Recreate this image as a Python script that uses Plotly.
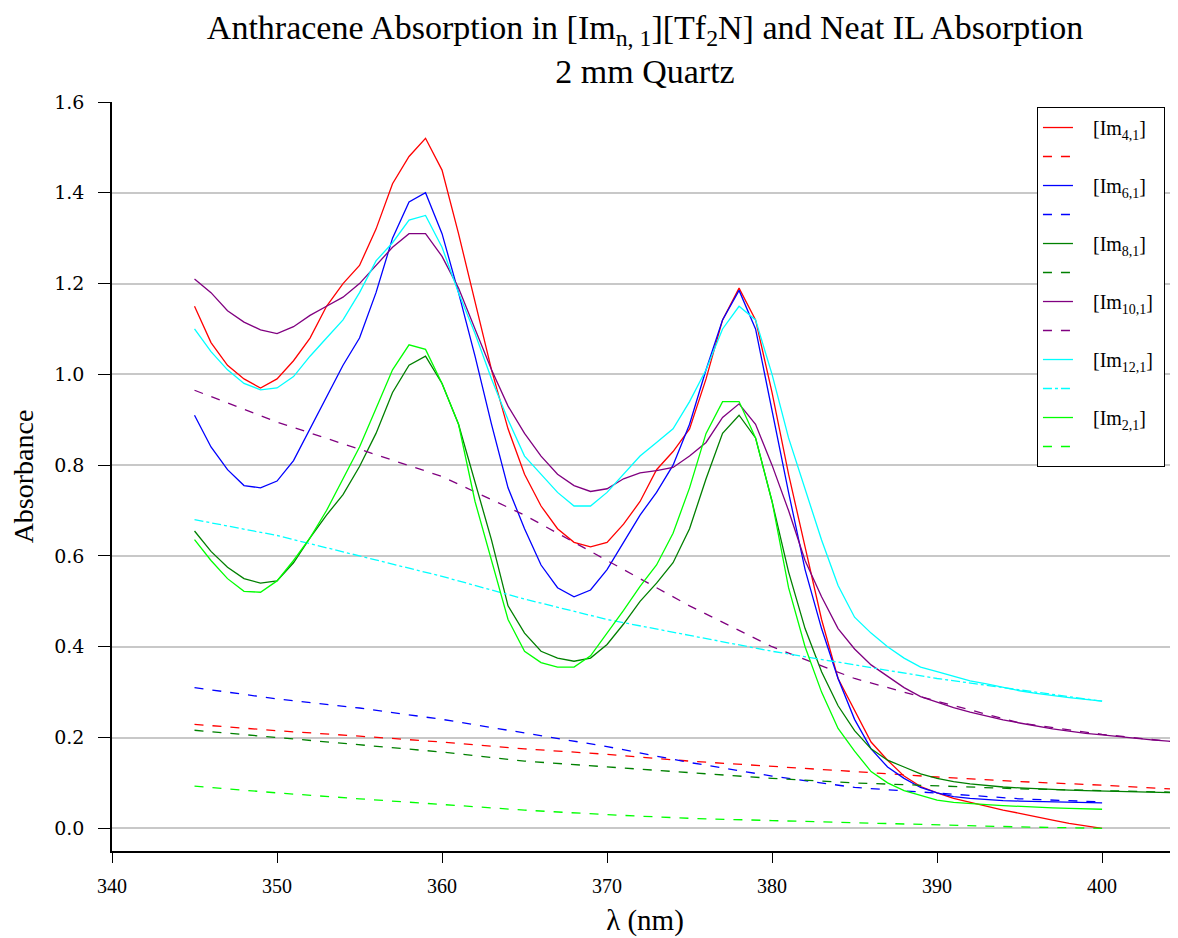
import plotly.graph_objects as go

# wavelength grids (nm)
wl = list(range(345, 401))        # 345..400
wl_ext = list(range(345, 406))    # 345..405
wl_dash = [345, 350, 355, 360, 365, 370, 375, 380, 385, 390, 395, 400]
wl_dash_ext = [345, 350, 355, 360, 365, 370, 375, 380, 385, 390, 395, 400, 405]

# Anthracene in IL (solid)
im4 = [1.15, 1.07, 1.02, 0.99, 0.97, 0.99, 1.03, 1.08, 1.15, 1.20,
       1.24, 1.32, 1.42, 1.48, 1.52, 1.45, 1.31, 1.16, 1.01, 0.88,
       0.78, 0.71, 0.66, 0.63, 0.62, 0.63, 0.67, 0.72, 0.79, 0.83,
       0.88, 0.99, 1.12, 1.19, 1.12, 0.96, 0.78, 0.62, 0.46, 0.33,
       0.26, 0.19, 0.15, 0.115, 0.092, 0.078, 0.066, 0.057, 0.048, 0.040,
       0.033, 0.025, 0.018, 0.011, 0.005, 0.0]
im6 = [0.91, 0.84, 0.79, 0.755, 0.75, 0.765, 0.81, 0.88, 0.95, 1.02,
       1.08, 1.18, 1.30, 1.38, 1.40, 1.31, 1.18, 1.04, 0.89, 0.75,
       0.66, 0.58, 0.53, 0.51, 0.525, 0.57, 0.63, 0.69, 0.74, 0.80,
       0.89, 1.01, 1.12, 1.185, 1.10, 0.92, 0.74, 0.57, 0.44, 0.33,
       0.24, 0.175, 0.135, 0.11, 0.09, 0.078, 0.07, 0.066, 0.063, 0.061,
       0.060, 0.059, 0.058, 0.057, 0.057, 0.056]
im8 = [0.655, 0.61, 0.575, 0.55, 0.54, 0.545, 0.585, 0.64, 0.69, 0.735,
       0.797, 0.87, 0.96, 1.02, 1.04, 0.98, 0.89, 0.76, 0.635, 0.49,
       0.43, 0.39, 0.375, 0.368, 0.375, 0.405, 0.45, 0.50, 0.54, 0.585,
       0.66, 0.77, 0.87, 0.91, 0.86, 0.72, 0.565, 0.44, 0.345, 0.27,
       0.215, 0.175, 0.15, 0.135, 0.12, 0.11, 0.103, 0.098, 0.094, 0.091,
       0.089, 0.087, 0.085, 0.084, 0.083, 0.082, 0.081, 0.080, 0.080, 0.079,
       0.078]
im10 = [1.21, 1.18, 1.14, 1.115, 1.098, 1.09, 1.105, 1.13, 1.15, 1.17,
        1.20, 1.24, 1.28, 1.31, 1.31, 1.26, 1.19, 1.10, 1.01, 0.93,
        0.87, 0.82, 0.78, 0.755, 0.742, 0.748, 0.77, 0.783, 0.788, 0.795,
        0.82, 0.85, 0.905, 0.935, 0.89, 0.80, 0.70, 0.59, 0.51, 0.44,
        0.395, 0.36, 0.335, 0.31, 0.29, 0.278, 0.266, 0.256, 0.247, 0.239,
        0.232, 0.225, 0.219, 0.214, 0.209, 0.206, 0.202, 0.199, 0.195, 0.192,
        0.188]
im12 = [1.10, 1.05, 1.01, 0.98, 0.966, 0.97, 0.995, 1.04, 1.08, 1.12,
        1.18, 1.25, 1.29, 1.34, 1.35, 1.28, 1.18, 1.09, 0.99, 0.90,
        0.82, 0.78, 0.74, 0.71, 0.71, 0.74, 0.78, 0.82, 0.85, 0.88,
        0.94, 1.01, 1.10, 1.15, 1.12, 1.00, 0.86, 0.745, 0.635, 0.535,
        0.465, 0.43, 0.40, 0.375, 0.355, 0.345, 0.335, 0.325, 0.318, 0.31,
        0.303, 0.297, 0.292, 0.288, 0.284, 0.28]
im2 = [0.636, 0.59, 0.55, 0.522, 0.52, 0.545, 0.59, 0.64, 0.70, 0.77,
       0.84, 0.925, 1.01, 1.065, 1.055, 0.98, 0.89, 0.72, 0.59, 0.46,
       0.39, 0.365, 0.355, 0.355, 0.38, 0.43, 0.48, 0.533, 0.58, 0.65,
       0.75, 0.87, 0.94, 0.94, 0.86, 0.72, 0.53, 0.40, 0.30, 0.22,
       0.17, 0.125, 0.10, 0.083, 0.072, 0.062, 0.057, 0.054, 0.052, 0.050,
       0.048, 0.046, 0.045, 0.044, 0.043, 0.042]

# Neat IL (dashed)
im4_neat = [0.229, 0.215, 0.203, 0.19, 0.175, 0.163, 0.148, 0.137, 0.125, 0.113, 0.103, 0.095, 0.085]
im6_neat = [0.31, 0.285, 0.265, 0.24, 0.21, 0.18, 0.145, 0.115, 0.09, 0.078, 0.065, 0.058]
im8_neat = [0.216, 0.20, 0.185, 0.168, 0.148, 0.135, 0.123, 0.11, 0.10, 0.093, 0.087, 0.083, 0.079]
im10_neat = [0.965, 0.895, 0.835, 0.775, 0.69, 0.59, 0.49, 0.40, 0.33, 0.28, 0.232, 0.207, 0.188]
im12_neat = [0.68, 0.645, 0.60, 0.555, 0.505, 0.46, 0.425, 0.39, 0.36, 0.33, 0.305, 0.28]
im2_neat = [0.093, 0.078, 0.065, 0.052, 0.04, 0.03, 0.022, 0.017, 0.012, 0.007, 0.003, 0.0]

labels = ["[Im<sub>4,1</sub>]", "[Im<sub>6,1</sub>]", "[Im<sub>8,1</sub>]",
          "[Im<sub>10,1</sub>]", "[Im<sub>12,1</sub>]", "[Im<sub>2,1</sub>]"]

series = [
    (labels[0], wl, im4, wl_dash_ext, im4_neat, "#ff0000", "dash"),
    (labels[1], wl, im6, wl_dash, im6_neat, "#0000ff", "dash"),
    (labels[2], wl_ext, im8, wl_dash_ext, im8_neat, "#008000", "dash"),
    (labels[3], wl_ext, im10, wl_dash_ext, im10_neat, "#800080", "dash"),
    (labels[4], wl, im12, wl_dash, im12_neat, "#00ffff", "dashdot"),
    (labels[5], wl, im2, wl_dash, im2_neat, "#00ff00", "dash"),
]

NB = "\u00a0"
fig = go.Figure()
for i, (name, xs, ys, xd, yd, col, dsh) in enumerate(series):
    fig.add_trace(go.Scatter(x=xs, y=ys, mode="lines", name=NB * 3 + name + NB,
                             legendgroup=f"s{i}", line=dict(color=col, width=1.3)))
    fig.add_trace(go.Scatter(x=xd, y=yd, mode="lines", name="",
                             legendgroup=f"d{i}", line=dict(color=col, width=1.3, dash=dsh)))

# page body has an 8px margin, so the figure is sized/offset to fit the window
fig.update_layout(
    width=1170, height=930,
    margin=dict(l=104, r=0, t=94, b=87),
    paper_bgcolor="white", plot_bgcolor="white",
    font=dict(family="Liberation Serif", color="black"),
    title=dict(text="Anthracene Absorption in [Im<sub>n, 1</sub>][Tf<sub>2</sub>N] and Neat IL Absorption<br>2 mm Quartz",
               x=0.5, xref="paper", xanchor="center", y=0.967, yref="container", yanchor="top",
               font=dict(family="Liberation Serif", size=34, color="black")),
    showlegend=True,
    legend=dict(x=0.8677, y=0.9933, xanchor="left", yanchor="top",
                bordercolor="black", borderwidth=1, bgcolor="white",
                font=dict(family="Liberation Serif", size=20, color="black"),
                tracegroupgap=3, traceorder="normal"),
)
fig.update_xaxes(range=[340, 404.6], tickvals=[340, 350, 360, 370, 380, 390, 400],
                 showgrid=False, zeroline=False, showline=True, linecolor="black", linewidth=1.5,
                 ticks="outside", ticklen=10, tickcolor="black", tickwidth=1,
                 ticklabelstandoff=6,
                 tickfont=dict(family="Liberation Serif", size=20),
                 title=dict(text="λ (nm)", font=dict(family="Liberation Serif", size=29), standoff=14))
fig.update_yaxes(range=[-0.05, 1.6], tickvals=[0, 0.2, 0.4, 0.6, 0.8, 1.0, 1.2, 1.4, 1.6],
                 tickformat=".1f",
                 showgrid=True, gridcolor="#c8c8c8", gridwidth=1.5, zeroline=False,
                 showline=True, linecolor="black", linewidth=1.5,
                 ticks="outside", ticklen=12, tickcolor="black", tickwidth=1,
                 ticklabelstandoff=10,
                 tickfont=dict(family="DejaVu Serif", size=19),
                 title=dict(text="Absorbance", font=dict(family="Liberation Serif", size=28), standoff=14))

fig.write_html("out.html")
